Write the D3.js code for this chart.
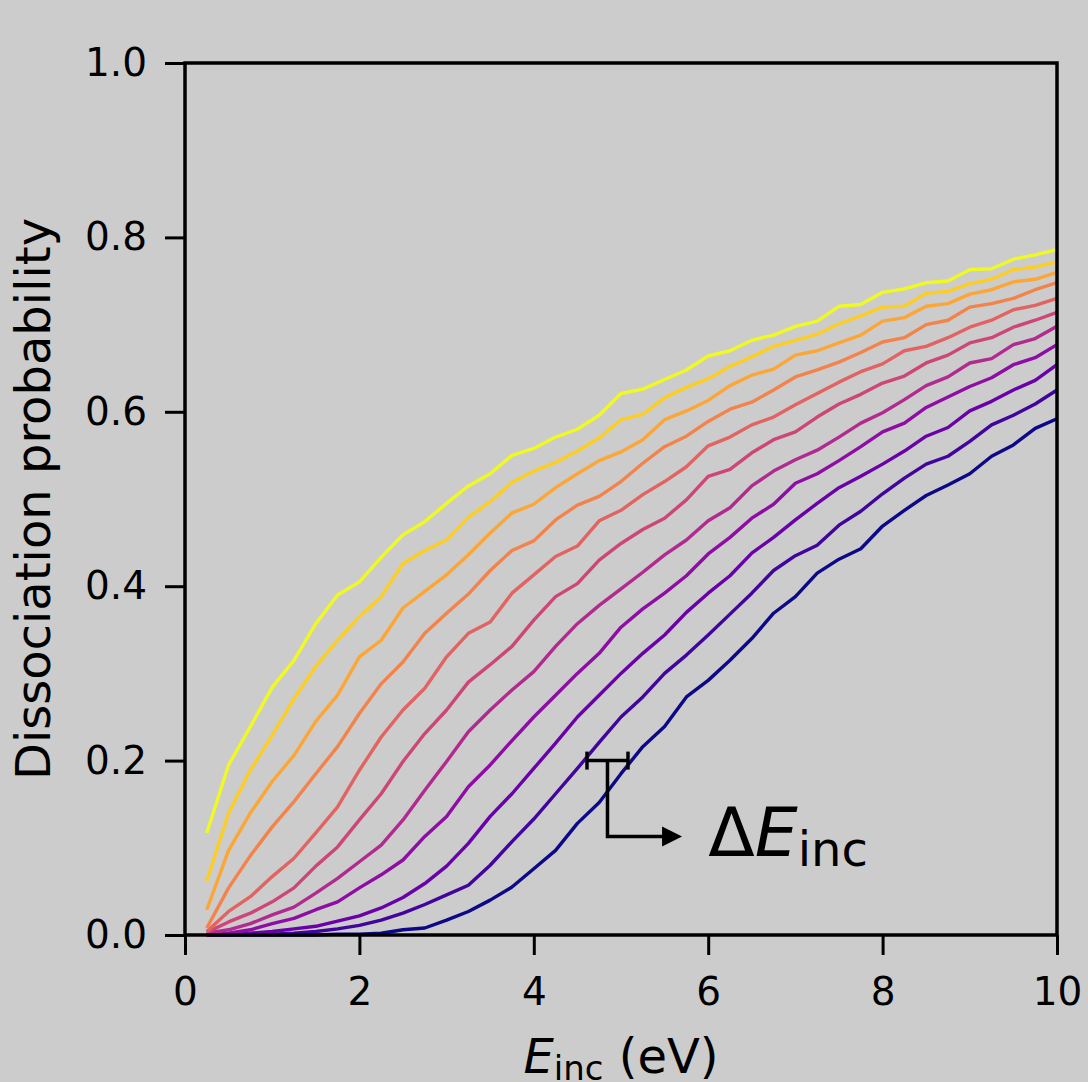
<!DOCTYPE html>
<html>
<head>
<meta charset="utf-8">
<script src="https://cdn.jsdelivr.net/npm/d3@7"></script>
<style>
  body { margin: 0; background: #cccccc; }
  svg { display: block; font-family: "DejaVu Sans", sans-serif; }
</style>
</head>
<body>
<svg id="chart" width="1088" height="1082"></svg>
<script>
// Incident energies (eV) at which the dissociation probability was sampled
const energies = [0.25, 0.5, 0.75, 1.0, 1.25, 1.5, 1.75, 2.0, 2.25, 2.5,
  2.75, 3.0, 3.25, 3.5, 3.75, 4.0, 4.25, 4.5, 4.75, 5.0,
  5.25, 5.5, 5.75, 6.0, 6.25, 6.5, 6.75, 7.0, 7.25, 7.5,
  7.75, 8.0, 8.25, 8.5, 8.75, 9.0, 9.25, 9.5, 9.75, 10.0];

// Dissociation probability curves, lowest (curve0) to highest (curve10)
const curve0 = [0.000, 0.000, 0.000, 0.000, 0.000, 0.000, 0.001, 0.001, 0.002, 0.006,
  0.008, 0.017, 0.027, 0.040, 0.055, 0.076, 0.097, 0.128, 0.152, 0.185,
  0.216, 0.239, 0.273, 0.292, 0.315, 0.340, 0.369, 0.388, 0.415, 0.431,
  0.443, 0.469, 0.487, 0.504, 0.516, 0.529, 0.549, 0.562, 0.581, 0.592];
const curve1 = [0.000, 0.000, 0.001, 0.001, 0.002, 0.004, 0.007, 0.011, 0.017, 0.025,
  0.035, 0.046, 0.057, 0.080, 0.107, 0.133, 0.162, 0.191, 0.221, 0.250,
  0.273, 0.300, 0.321, 0.344, 0.368, 0.392, 0.418, 0.435, 0.447, 0.470,
  0.486, 0.506, 0.524, 0.540, 0.549, 0.566, 0.585, 0.596, 0.609, 0.625];
const curve2 = [0.000, 0.001, 0.002, 0.004, 0.007, 0.010, 0.016, 0.022, 0.031, 0.043,
  0.059, 0.079, 0.105, 0.136, 0.162, 0.191, 0.220, 0.250, 0.275, 0.300,
  0.323, 0.344, 0.370, 0.392, 0.412, 0.438, 0.456, 0.476, 0.495, 0.513,
  0.526, 0.540, 0.555, 0.572, 0.582, 0.601, 0.612, 0.625, 0.636, 0.654];
const curve3 = [0.001, 0.002, 0.006, 0.013, 0.019, 0.029, 0.038, 0.054, 0.069, 0.086,
  0.113, 0.136, 0.170, 0.195, 0.223, 0.250, 0.275, 0.300, 0.323, 0.353,
  0.374, 0.392, 0.412, 0.437, 0.456, 0.478, 0.494, 0.518, 0.529, 0.544,
  0.560, 0.577, 0.587, 0.605, 0.617, 0.629, 0.639, 0.654, 0.662, 0.677];
const curve4 = [0.002, 0.006, 0.013, 0.023, 0.032, 0.048, 0.065, 0.084, 0.103, 0.132,
  0.166, 0.199, 0.233, 0.258, 0.281, 0.302, 0.331, 0.357, 0.378, 0.397,
  0.416, 0.436, 0.453, 0.475, 0.490, 0.515, 0.532, 0.545, 0.556, 0.571,
  0.587, 0.599, 0.614, 0.630, 0.640, 0.656, 0.661, 0.677, 0.684, 0.698];
const curve5 = [0.003, 0.015, 0.025, 0.038, 0.054, 0.079, 0.101, 0.132, 0.162, 0.199,
  0.231, 0.258, 0.290, 0.310, 0.331, 0.361, 0.388, 0.403, 0.430, 0.449,
  0.465, 0.478, 0.499, 0.526, 0.534, 0.553, 0.568, 0.577, 0.594, 0.609,
  0.620, 0.633, 0.641, 0.656, 0.665, 0.679, 0.685, 0.697, 0.705, 0.714];
const curve6 = [0.004, 0.027, 0.044, 0.067, 0.088, 0.117, 0.147, 0.189, 0.227, 0.258,
  0.283, 0.319, 0.346, 0.359, 0.392, 0.413, 0.434, 0.446, 0.475, 0.487,
  0.505, 0.520, 0.537, 0.561, 0.571, 0.585, 0.594, 0.608, 0.621, 0.634,
  0.646, 0.655, 0.670, 0.675, 0.685, 0.697, 0.705, 0.717, 0.722, 0.730];
const curve7 = [0.008, 0.054, 0.091, 0.124, 0.153, 0.185, 0.216, 0.254, 0.288, 0.313,
  0.346, 0.369, 0.391, 0.418, 0.441, 0.452, 0.476, 0.493, 0.503, 0.520,
  0.541, 0.560, 0.572, 0.589, 0.603, 0.611, 0.625, 0.640, 0.648, 0.657,
  0.668, 0.680, 0.685, 0.700, 0.705, 0.720, 0.724, 0.730, 0.740, 0.748];
const curve8 = [0.029, 0.097, 0.140, 0.176, 0.206, 0.245, 0.275, 0.319, 0.338, 0.375,
  0.394, 0.413, 0.436, 0.461, 0.484, 0.494, 0.513, 0.529, 0.544, 0.554,
  0.568, 0.591, 0.601, 0.613, 0.630, 0.642, 0.649, 0.665, 0.670, 0.679,
  0.688, 0.704, 0.708, 0.721, 0.724, 0.735, 0.740, 0.749, 0.752, 0.760];
const curve9 = [0.062, 0.140, 0.189, 0.229, 0.271, 0.308, 0.338, 0.365, 0.388, 0.426,
  0.441, 0.453, 0.479, 0.497, 0.519, 0.532, 0.542, 0.555, 0.570, 0.591,
  0.597, 0.616, 0.628, 0.638, 0.652, 0.663, 0.675, 0.682, 0.689, 0.701,
  0.710, 0.720, 0.721, 0.736, 0.738, 0.747, 0.752, 0.763, 0.766, 0.772];
const curve10 = [0.117, 0.195, 0.239, 0.284, 0.315, 0.357, 0.390, 0.405, 0.433, 0.459,
  0.474, 0.495, 0.515, 0.529, 0.550, 0.558, 0.571, 0.580, 0.596, 0.621,
  0.626, 0.637, 0.648, 0.664, 0.670, 0.682, 0.688, 0.698, 0.704, 0.721,
  0.723, 0.737, 0.741, 0.748, 0.750, 0.763, 0.764, 0.775, 0.780, 0.786];

const curves = [curve0, curve1, curve2, curve3, curve4, curve5,
  curve6, curve7, curve8, curve9, curve10];

// Axis ticks
const xTicks = [0, 2, 4, 6, 8, 10];
const yTicks = [0.0, 0.2, 0.4, 0.6, 0.8, 1.0];
const yTickLabels = ["0.0", "0.2", "0.4", "0.6", "0.8", "1.0"];

// Energy-shift marker: bracket at P = 0.2 between neighbouring curves
const shiftBracketP = 0.2;
const shiftBracketE = [4.61, 5.08];
const shiftArrowP = 0.113;
const shiftArrowEndE = 5.70;
const shiftLabelE = 6.0;
const shiftLabelP = 0.091;

// ---- layout ----
const margin = { left: 185, right: 31, top: 63, bottom: 147 };
const W = 1088, H = 1082;
const svg = d3.select("#chart");

const x = d3.scaleLinear().domain([0, 10]).range([margin.left, W - margin.right]);
const y = d3.scaleLinear().domain([0, 1]).range([H - margin.bottom, margin.top]);

svg.append("rect").attr("width", W).attr("height", H).attr("fill", "#cccccc");

// curves, coloured along the plasma colormap
const line = d3.line()
  .x((d, i) => x(energies[i]))
  .y(d => y(d));

svg.append("g")
  .selectAll("path")
  .data(curves)
  .join("path")
  .attr("d", d => line(d))
  .attr("fill", "none")
  .attr("stroke", (d, i) => d3.interpolatePlasma(i / (curves.length - 1)))
  .attr("stroke-width", 3.4)
  .attr("stroke-linejoin", "round")
  .attr("stroke-linecap", "butt");

// axes
const tickFont = 39;
const xAxis = d3.axisBottom(x).tickValues(xTicks).tickFormat(d3.format("d"))
  .tickSize(20).tickPadding(22);
const yAxis = d3.axisLeft(y).tickValues(yTicks).tickFormat((d, i) => yTickLabels[i])
  .tickSize(20).tickPadding(18);

const gx = svg.append("g").attr("transform", `translate(0,${y(0)})`).call(xAxis);
const gy = svg.append("g").attr("transform", `translate(${x(0)},0)`).call(yAxis);
[gx, gy].forEach(g => {
  g.select(".domain").remove();
  g.selectAll(".tick line").attr("stroke", "#000").attr("stroke-width", 3);
  g.selectAll(".tick text").attr("fill", "#000")
    .style("font-size", tickFont + "px")
    .style("font-family", "'DejaVu Sans', sans-serif");
});

// frame
svg.append("rect")
  .attr("x", x(0)).attr("y", y(1))
  .attr("width", x(10) - x(0)).attr("height", y(0) - y(1))
  .attr("fill", "none").attr("stroke", "#000").attr("stroke-width", 3.5);

// axis labels
svg.append("text")
  .attr("transform", `translate(50,${(y(0) + y(1)) / 2}) rotate(-90)`)
  .attr("text-anchor", "middle")
  .style("font-size", "48px")
  .text("Dissociation probability");

const xl = svg.append("text")
  .attr("x", (x(0) + x(10)) / 2).attr("y", 1073)
  .attr("text-anchor", "middle")
  .style("font-size", "48px");
xl.append("tspan").style("font-style", "italic").text("E");
xl.append("tspan").attr("dy", 7).style("font-size", "34px").text("inc");
xl.append("tspan").attr("dy", -7).text(" (eV)");

// energy-shift marker
const ann = svg.append("g").attr("stroke", "#000").attr("stroke-width", 3.5).attr("fill", "none");
const bx0 = x(shiftBracketE[0]), bx1 = x(shiftBracketE[1]), by = y(shiftBracketP);
const bxm = (bx0 + bx1) / 2;
ann.append("line").attr("x1", bx0).attr("x2", bx1).attr("y1", by).attr("y2", by);
ann.append("line").attr("x1", bx0).attr("x2", bx0).attr("y1", by - 9).attr("y2", by + 9);
ann.append("line").attr("x1", bx1).attr("x2", bx1).attr("y1", by - 9).attr("y2", by + 9);
const ay = y(shiftArrowP), ax = x(shiftArrowEndE);
ann.append("path")
  .attr("d", `M${bxm},${by} L${bxm},${ay} L${ax - 17},${ay}`)
  .attr("stroke-linejoin", "miter");
svg.append("path")
  .attr("d", `M${ax},${ay} L${ax - 20},${ay - 10} L${ax - 20},${ay + 10} Z`)
  .attr("fill", "#000");

const lbl = svg.append("text")
  .attr("x", x(shiftLabelE)).attr("y", y(shiftLabelP))
  .style("font-size", "68px");
lbl.append("tspan").text("Δ");
lbl.append("tspan").style("font-style", "italic").text("E");
lbl.append("tspan").attr("dy", 10).style("font-size", "48px").text("inc");
</script>
</body>
</html>
